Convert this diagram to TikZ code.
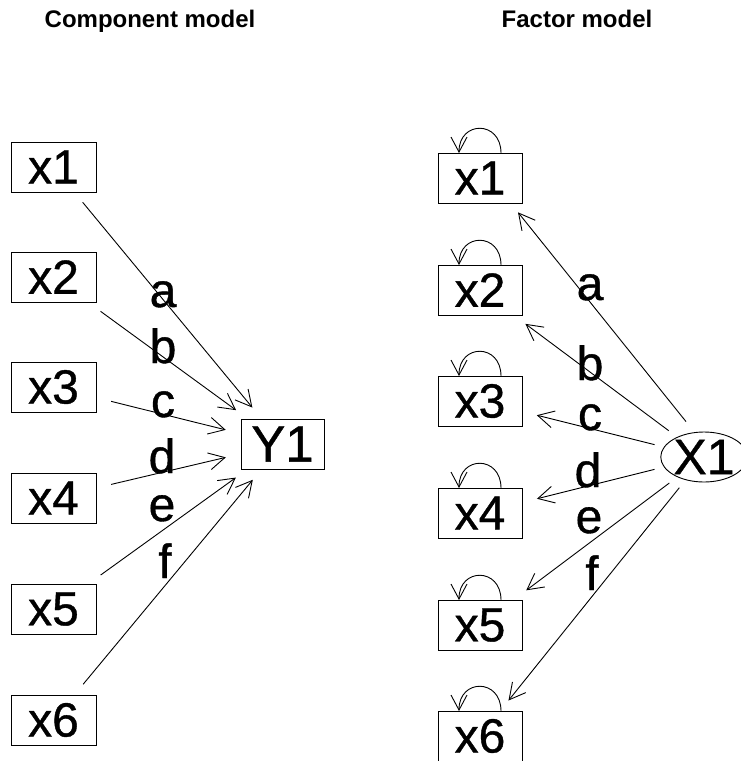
\documentclass[tikz,border=0pt]{standalone}
\usepackage{fontspec}
\setmainfont{Liberation Sans}
% slightly heavier face for the large node and path labels
\newfontfamily\labelfont{Liberation Sans}[FakeBold=0.8]
\usetikzlibrary{arrows.meta,shapes.geometric}
\begin{document}
\begin{tikzpicture}[x=1pt,y=-1pt,
  every node/.style={inner sep=0pt, outer sep=0pt},
  obs/.style={draw, line width=0.9pt, minimum width=85pt, minimum height=50pt,
    font=\labelfont\fontsize{48}{48}\selectfont},
  lat/.style={draw, ellipse, line width=0.9pt, minimum width=74pt, minimum height=50pt,
    font=\labelfont\fontsize{50}{50}\selectfont},
  lbl/.style={anchor=base, font=\labelfont\fontsize{48}{48}\selectfont},
  ttl/.style={anchor=base, font=\fontsize{24}{24}\selectfont\bfseries},
  link/.style={line width=0.9pt, -{Straight Barb[length=16pt,width=17pt]}},
  selfloop/.style={line width=0.9pt, -{Straight Barb[length=15pt,width=16pt]},
    out=90, in=90, looseness=2}
]
\useasboundingbox (0,0) rectangle (741,761);

% titles
\node[ttl] (t1) at (150,27) {Component model};
\node[ttl] (t2) at (577,27) {Factor model};

% ---- component model ----
\node[obs] (l1) at (53.5,167) {x1};
\node[obs] (l2) at (53.5,277) {x2};
\node[obs] (l3) at (53.5,387) {x3};
\node[obs] (l4) at (53.5,498) {x4};
\node[obs] (l5) at (53.5,609) {x5};
\node[obs] (l6) at (53.5,720) {x6};
\node[obs, minimum width=83pt, font=\labelfont\fontsize{51}{51}\selectfont] (Y) at (282.5,444) {Y1};

\draw[link, shorten <=45.8pt, shorten >=47.3pt] (l1.center) -- (Y.center);
\draw[link, shorten <=58.2pt, shorten >=57.4pt] (l2.center) -- (Y.center);
\draw[link, shorten <=59.4pt, shorten >=58.5pt] (l3.center) -- (Y.center);
\draw[link, shorten <=59.2pt, shorten >=58.2pt] (l4.center) -- (Y.center);
\draw[link, shorten <=58.1pt, shorten >=57.4pt] (l5.center) -- (Y.center);
\draw[link, shorten <=46.5pt, shorten >=46.5pt] (l6.center) -- (Y.center);

\node[lbl] (la) at (163,307) {a};
\node[lbl] (lb) at (163,363) {b};
\node[lbl] (lc) at (163,417) {c};
\node[lbl] (ld) at (162,473) {d};
\node[lbl] (le) at (162,521) {e};
\node[lbl] (lf) at (165,578) {f};

% ---- factor model ----
\node[obs, minimum width=84pt] (r1) at (480,178) {x1};
\node[obs, minimum width=84pt] (r2) at (480,290) {x2};
\node[obs, minimum width=84pt] (r3) at (480,401) {x3};
\node[obs, minimum width=84pt] (r4) at (480,513) {x4};
\node[obs, minimum width=84pt] (r5) at (480,625) {x5};
\node[obs, minimum width=84pt] (r6) at (480,736) {x6};
\node[lat] (X) at (704,457) {X1};

% residual variances
\foreach \n in {r1,r2,r3,r4,r5,r6}
  \draw[selfloop] ([xshift=21pt]\n.north) to ([xshift=-21pt]\n.north);

% loadings
\draw[link, shorten <=28.7pt, shorten >=60.7pt] ([yshift=13pt]X.center) -- ([yshift=13pt]r1.center);
\draw[link, shorten <=44pt, shorten >=56.6pt] (X.center) -- (r2.center);
\draw[link, shorten <=51pt, shorten >=58.5pt] (X.center) -- (r3.center);
\draw[link, shorten <=51pt, shorten >=58.7pt] (X.center) -- (r4.center);
\draw[link, shorten <=43.4pt, shorten >=57.8pt] (X.center) -- (r5.center);
\draw[link, shorten <=39.4pt, shorten >=45.5pt] (X.center) -- (r6.center);

\node[lbl] (ra) at (590,300) {a};
\node[lbl] (rb) at (590,380) {b};
\node[lbl] (rc) at (590,430) {c};
\node[lbl] (rd) at (588,487) {d};
\node[lbl] (re) at (589,533) {e};
\node[lbl] (rf) at (592,590) {f};
\end{tikzpicture}
\end{document}
